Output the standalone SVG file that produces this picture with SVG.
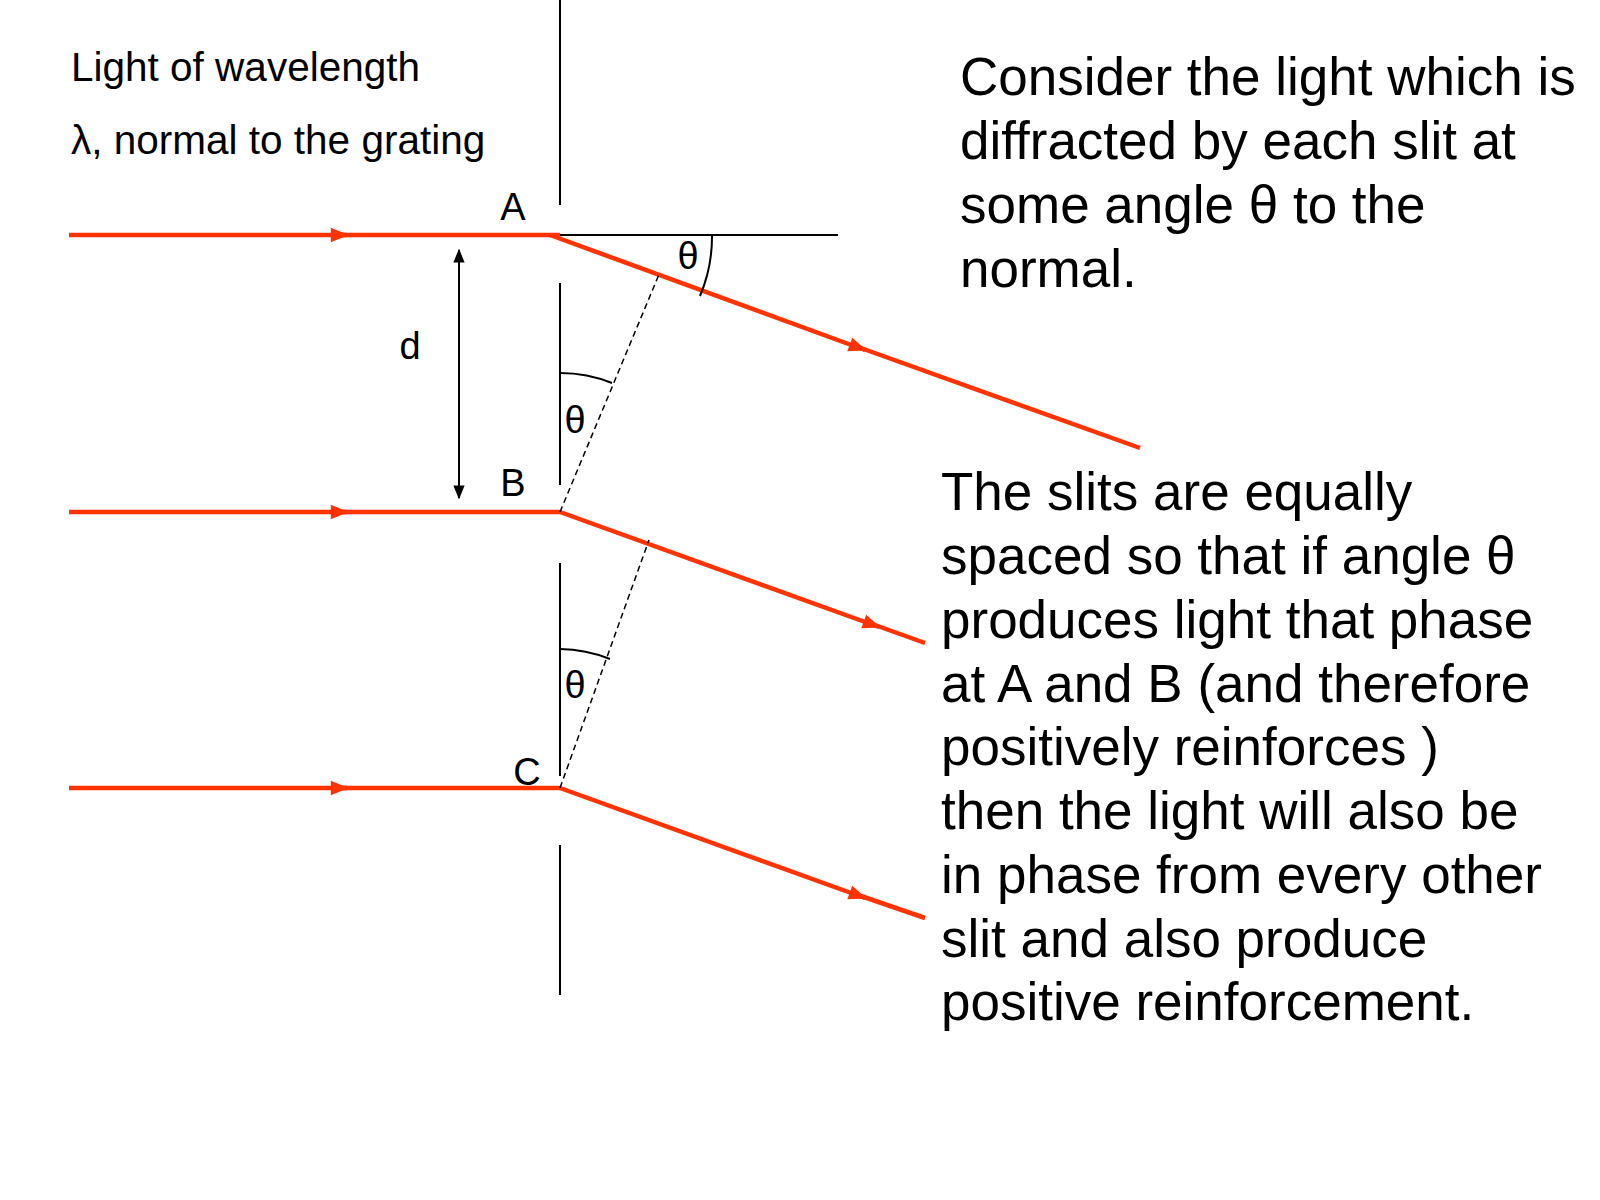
<svg xmlns="http://www.w3.org/2000/svg" width="1600" height="1200" viewBox="0 0 1600 1200">
<style>
text{font-family:"Liberation Sans",Arial,sans-serif;fill:#000}
.r{stroke:#ff3300;stroke-width:4.5;fill:none}
.k{stroke:#000;stroke-width:2;fill:none}
.dash{stroke:#000;stroke-width:1.5;stroke-dasharray:6,4;fill:none}
.lbl{font-size:38px}
.sm{font-size:40.5px}
.big{font-size:53px}
</style>
<defs>
<marker id="ar" viewBox="0 0 10 10" refX="9" refY="5" markerWidth="4.5" markerHeight="4" orient="auto" markerUnits="strokeWidth"><path d="M0,1 L10,5 L0,9 z" fill="#ff3300"/></marker>
<marker id="ak" viewBox="0 0 10 10" refX="9" refY="5" markerWidth="7" markerHeight="7" orient="auto-start-reverse" markerUnits="strokeWidth"><path d="M0,1 L10,5 L0,9 z" fill="#000"/></marker>
</defs>
<g id="grating">
<line class="k" x1="560" y1="0" x2="560" y2="205"/>
<line class="k" x1="560" y1="283" x2="560" y2="485"/>
<line class="k" x1="560" y1="563" x2="560" y2="776"/>
<line class="k" x1="560" y1="845" x2="560" y2="995"/>
<line class="k" x1="560" y1="235" x2="838" y2="235"/>
</g>
<g id="connectors">
<line class="r" x1="69" y1="235" x2="347" y2="235" marker-end="url(#ar)"/>
<line class="r" x1="340" y1="235" x2="560" y2="235"/>
<line class="r" x1="69" y1="512" x2="347" y2="512" marker-end="url(#ar)"/>
<line class="r" x1="340" y1="512" x2="560" y2="512"/>
<line class="r" x1="69" y1="788" x2="347" y2="788" marker-end="url(#ar)"/>
<line class="r" x1="340" y1="788" x2="560" y2="788"/>
<line class="r" x1="550" y1="235" x2="865" y2="350" marker-end="url(#ar)"/>
<line class="r" x1="858" y1="347" x2="1140" y2="448"/>
<line class="r" x1="560" y1="512" x2="879" y2="627" marker-end="url(#ar)"/>
<line class="r" x1="872" y1="624" x2="925" y2="643"/>
<line class="r" x1="560" y1="788" x2="865" y2="898" marker-end="url(#ar)"/>
<line class="r" x1="858" y1="895" x2="925" y2="918"/>
<line class="dash" x1="560" y1="512" x2="660" y2="272"/>
<line class="dash" x1="560" y1="788" x2="649" y2="540"/>
<path class="k" d="M712,235 A152,152 0 0 1 700,296"/>
<path class="k" d="M560,373 A139,139 0 0 1 612,383"/>
<path class="k" d="M560,649 A139,139 0 0 1 610,659"/>
<line class="k" x1="459" y1="250" x2="459" y2="498" marker-start="url(#ak)" marker-end="url(#ak)"/>
</g>
<g id="labels">
<text class="sm" x="71" y="81">Light of wavelength</text>
<text class="sm" x="71" y="154">λ, normal to the grating</text>
<text class="lbl" x="513" y="220" text-anchor="middle">A</text>
<text class="lbl" x="513" y="496" text-anchor="middle">B</text>
<text class="lbl" x="527" y="785" text-anchor="middle">C</text>
<text class="lbl" x="410" y="359" text-anchor="middle">d</text>
<text class="lbl" x="688" y="269" text-anchor="middle">θ</text>
<text class="lbl" x="575" y="433" text-anchor="middle">θ</text>
<text class="lbl" x="575" y="698" text-anchor="middle">θ</text>
</g>
<g id="text1">
<text class="big" x="960" y="95">Consider the light which is</text>
<text class="big" x="960" y="159">diffracted by each slit at</text>
<text class="big" x="960" y="223">some angle θ to the</text>
<text class="big" x="960" y="287">normal.</text>
</g>
<g id="text2">
<text class="big" x="941" y="510">The slits are equally</text>
<text class="big" x="941" y="574">spaced so that if angle θ</text>
<text class="big" x="941" y="638">produces light that phase</text>
<text class="big" x="941" y="702">at A and B (and therefore</text>
<text class="big" x="941" y="765">positively reinforces )</text>
<text class="big" x="941" y="829">then the light will also be</text>
<text class="big" x="941" y="893">in phase from every other</text>
<text class="big" x="941" y="957">slit and also produce</text>
<text class="big" x="941" y="1020">positive reinforcement.</text>
</g>
</svg>
